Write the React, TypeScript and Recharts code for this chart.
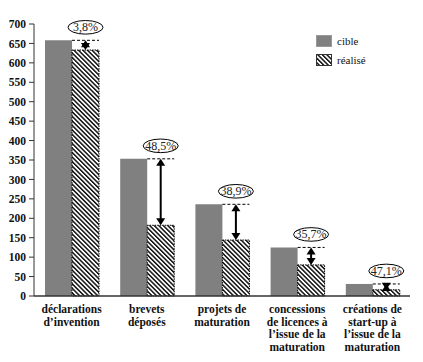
import React from 'react';
import { BarChart, Bar, XAxis, YAxis } from 'recharts';

const categories = [
  'déclarations\nd’invention',
  'brevets\ndéposés',
  'projets de\nmaturation',
  'concessions\nde licences à\nl’issue de la\nmaturation',
  'créations de\nstart-up à\nl’issue de la\nmaturation',
];
const cible = [658, 353, 236, 125, 31];
const realise = [633, 182, 144, 80, 16];
const ecarts = ['3,8%', '48,5%', '38,9%', '35,7%', '47,1%'];
const yTicks = [0, 50, 100, 150, 200, 250, 300, 350, 400, 450, 500, 550, 600, 650, 700];
const legendLabels = ['cible', 'réalisé'];

const data = categories.map((c, i) => ({ cat: c, cible: cible[i], realise: realise[i] }));

const FONT = '"Liberation Serif", "DejaVu Serif", serif';

const RealiseShape = (props: any) => {
  const { x, y, width, height, index } = props;
  const value = realise[index];
  const k = height / value;
  const base = y + height;
  const cy = base - cible[index] * k;
  const cx = x + width / 2;
  const ah = 7;
  const aw = 4.5;
  return (
    <g>
      <rect x={x} y={y} width={width} height={height} fill="url(#hatch)" stroke="#000" strokeWidth={1} strokeDasharray="1.5 1" />
      <line x1={x} y1={cy} x2={x + width} y2={cy} stroke="#000" strokeWidth={1} strokeDasharray="3 2" />
      <line x1={cx} y1={cy + 2} x2={cx} y2={y - 2} stroke="#000" strokeWidth={2} />
      <polygon points={`${cx},${cy} ${cx - aw},${cy + ah} ${cx + aw},${cy + ah}`} fill="#000" />
      <polygon points={`${cx},${y} ${cx - aw},${y - ah} ${cx + aw},${y - ah}`} fill="#000" />
      <ellipse cx={cx} cy={cy - 13} rx={17.5} ry={6.8} fill="#fff" stroke="#000" strokeWidth={1} />
      <text x={cx} y={cy - 13} textAnchor="middle" dominantBaseline="central" fontFamily={FONT} fontSize={12} fill="#222">
        {ecarts[index]}
      </text>
    </g>
  );
};

const XTick = (props: any) => {
  const { x, y, payload } = props;
  const lines = String(payload.value).split('\n');
  return (
    <text x={x} y={y} textAnchor="middle" fontFamily={FONT} fontSize={11.5} fontWeight="bold" fill="#111">
      {lines.map((l, i) => (
        <tspan key={i} x={x} dy={i === 0 ? 9 : 12.7}>
          {l}
        </tspan>
      ))}
    </text>
  );
};

const LegendBox = () => (
  <div style={{ position: 'absolute', left: 316, top: 31, fontFamily: FONT, fontSize: 11, color: '#111' }}>
    {legendLabels.map((lab, i) => (
      <div key={lab} style={{ display: 'flex', alignItems: 'center', height: 19 }}>
        <svg width={16} height={12} style={{ marginRight: 5 }}>
          <rect x={0.5} y={0.5} width={15} height={11} fill={i === 0 ? '#808080' : 'url(#hatch)'} stroke={i === 0 ? '#999' : '#333'} />
        </svg>
        <span>{lab}</span>
      </div>
    ))}
  </div>
);

export default function App() {
  return (
    <div style={{ position: 'absolute', left: 0, top: 0, width: 423, height: 362, background: '#fff' }}>
      <svg width={0} height={0} style={{ position: 'absolute' }}>
        <defs>
          <pattern id="hatch" patternUnits="userSpaceOnUse" width={3.2} height={3.2} patternTransform="rotate(-45)">
            <rect x={0} y={0} width={3.2} height={3.2} fill="#fff" />
            <rect x={0} y={0} width={1.5} height={3.2} fill="#111" />
          </pattern>
        </defs>
      </svg>
      <BarChart
        width={423}
        height={362}
        data={data}
        margin={{ top: 24, right: 13, bottom: 0, left: 0 }}
        barGap={0}
        barSize={27}
      >
        <XAxis
          dataKey="cat"
          interval={0}
          height={66}
          tickLine={false}
          axisLine={{ stroke: '#333', strokeWidth: 1.5 }}
          tick={<XTick />}
        />
        <YAxis
          width={34}
          domain={[0, 700]}
          ticks={yTicks}
          interval={0}
          tickSize={5}
          tickMargin={3}
          axisLine={{ stroke: '#333' }}
          tickLine={{ stroke: '#333' }}
          tick={{ fontFamily: FONT, fontSize: 11.5, fontWeight: 'bold', fill: '#111' }}
        />
        <Bar dataKey="cible" fill="#808080" isAnimationActive={false} />
        <Bar dataKey="realise" shape={<RealiseShape />} isAnimationActive={false} />
      </BarChart>
      <LegendBox />
    </div>
  );
}
